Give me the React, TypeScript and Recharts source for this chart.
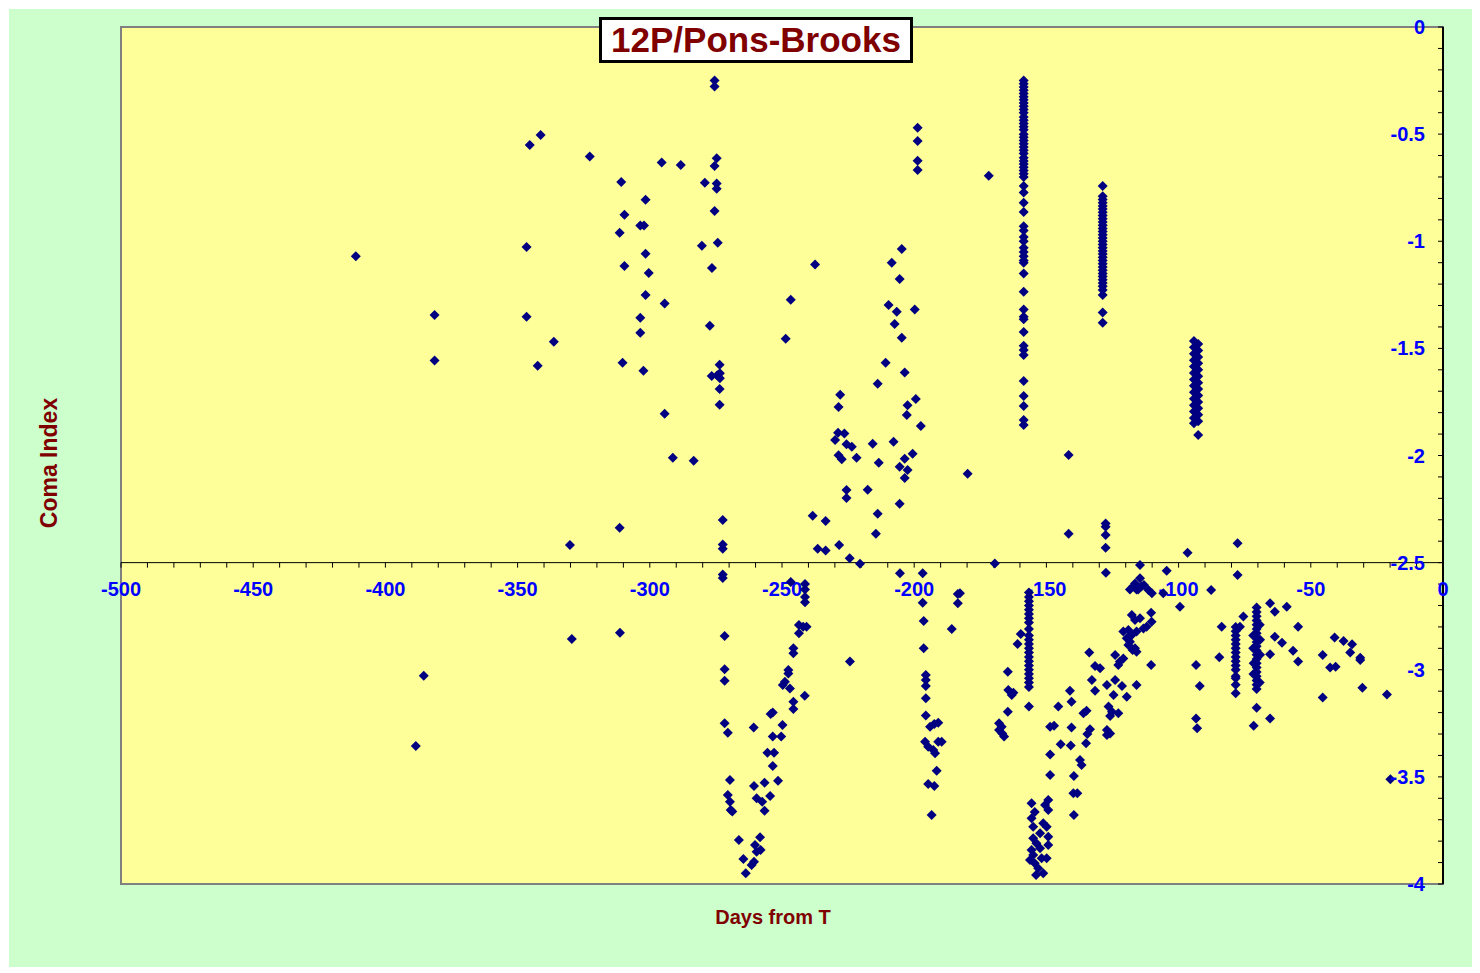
import React from "react";
import { ScatterChart, Scatter, XAxis, YAxis, CartesianGrid, ReferenceLine, ReferenceArea, ReferenceDot } from "recharts";

type Obs = [number, number]; // [days from T, coma index]

// observations before ~ -280 days
const earlyObs: Obs[] = [
  [-411.2, -1.07], [-381.4, -1.344], [-381.4, -1.557], [-385.5, -3.028], [-388.5, -3.356],
  [-346.6, -1.027], [-345.4, -0.551], [-346.6, -1.352], [-341.3, -0.504], [-342.4, -1.581], [-336.3, -1.469],
  [-330.2, -2.418], [-329.5, -2.857], [-322.7, -0.605],
  [-310.8, -0.723], [-309.6, -0.876], [-311.4, -0.96], [-309.6, -1.116], [-310.3, -1.567], [-311.4, -2.337], [-311.3, -2.827],
  [-303.6, -0.927], [-302.2, -0.927], [-301.6, -0.806], [-301.6, -1.058], [-300.4, -1.148], [-301.6, -1.251],
  [-303.6, -1.357], [-303.6, -1.427], [-302.4, -1.604],
  [-295.5, -0.633], [-294.4, -1.291], [-294.4, -1.805], [-291.3, -2.01], [-288.3, -0.644], [-283.4, -2.024],
  [-280.3, -1.021], [-279.2, -0.727], [-277.3, -1.394], [-276.5, -1.125], [-276.6, -1.629],
];

const obs274: Obs[] = [
  [-275.5, -0.25], [-275.5, -0.278], [-274.7, -0.613], [-275.5, -0.649], [-274.7, -0.73], [-274.7, -0.755],
  [-275.5, -0.859], [-274.3, -1.007], [-273.6, -1.576], [-273.5, -1.616], [-274.5, -1.625], [-273.5, -1.64],
  [-273.6, -1.69], [-273.6, -1.763], [-272.4, -2.301], [-272.4, -2.415], [-272.4, -2.435], [-272.4, -2.556],
  [-272.4, -2.572], [-271.7, -2.843], [-271.7, -2.998], [-271.7, -3.051], [-271.7, -3.25], [-270.5, -3.294],
  [-269.7, -3.515], [-270.5, -3.585], [-269.7, -3.616], [-269.4, -3.655], [-268.8, -3.662],
];

const dip260: Obs[] = [
  [-266.3, -3.795], [-264.6, -3.883], [-263.7, -3.95], [-261.5, -3.911], [-260.6, -3.896], [-260.2, -3.818],
  [-259.6, -3.849], [-258.3, -3.782], [-258.1, -3.841], [-260.7, -3.27], [-260.6, -3.543], [-259.6, -3.6],
  [-257.5, -3.616], [-256.6, -3.527], [-256.6, -3.658], [-254.5, -3.589], [-255.5, -3.387], [-253, -3.387],
  [-253.5, -3.449], [-251.5, -3.518], [-253.5, -3.312], [-250.3, -3.312], [-254.3, -3.207], [-253.5, -3.2],
  [-249.8, -3.258], [-249.7, -3.071], [-248.9, -3.056], [-247.6, -3.017], [-247.6, -3.001], [-247, -3.087],
  [-245.7, -3.149], [-245.7, -3.183], [-241.4, -3.121], [-245.7, -2.9], [-245.7, -2.923], [-243.6, -2.791],
  [-243.6, -2.83], [-242, -2.799], [-240.7, -2.799], [-246.7, -2.59], [-241.3, -2.6], [-241.3, -2.625],
  [-241.3, -2.66], [-241.3, -2.685], [-224.3, -2.962],
];

const mid220: Obs[] = [
  [-248.6, -1.455], [-246.7, -1.273], [-237.5, -1.109], [-238.4, -2.281], [-233.5, -2.306], [-236.5, -2.435],
  [-233.5, -2.443], [-228.4, -2.418], [-224.4, -2.48], [-220.5, -2.505], [-228, -1.716], [-228.6, -1.774],
  [-228.8, -1.894], [-226.4, -1.897], [-229.9, -1.928], [-225.6, -1.948], [-223.6, -1.959], [-228.6, -1.999],
  [-227.4, -2.018], [-221.8, -2.01], [-225.6, -2.161], [-225.6, -2.198], [-217.6, -2.16], [-215.7, -1.945],
  [-213.8, -1.665], [-210.8, -1.567], [-213.4, -2.034], [-213.8, -2.272], [-214.5, -2.365], [-209.7, -1.298],
  [-208.5, -1.1], [-207.8, -1.936], [-207.4, -1.386], [-206.6, -1.329], [-205.5, -1.176], [-205.5, -2.052],
  [-205.5, -2.225], [-204.7, -1.036], [-204.7, -1.45], [-203.6, -1.613], [-203.6, -2.015], [-203.6, -2.105],
  [-202.5, -1.766], [-202.8, -1.811], [-202.5, -2.068], [-200.6, -1.992], [-199.8, -1.319], [-199.4, -1.736],
  [-197.5, -1.862], [-198.7, -0.47], [-198.7, -0.532], [-198.7, -0.624], [-198.7, -0.667], [-205.4, -2.55],
  [-179.8, -2.085], [-171.8, -0.694], [-169.5, -2.504],
];

const obs196: Obs[] = [
  [-196.8, -2.55], [-196.8, -2.687], [-196.4, -2.772], [-196.4, -2.9], [-195.6, -3.025], [-195.6, -3.048],
  [-195.6, -3.076], [-195.6, -3.133], [-195.6, -3.214], [-194, -3.266], [-192.4, -3.253], [-190.9, -3.247],
  [-195.9, -3.336], [-194.7, -3.359], [-190.9, -3.336], [-189.6, -3.336], [-192.8, -3.375], [-192.1, -3.39],
  [-191.5, -3.471], [-194.7, -3.533], [-192.4, -3.543], [-193.4, -3.678], [-185.8, -2.81], [-183.5, -2.646],
  [-182.7, -2.643], [-183.5, -2.69],
];

// dense night at about -158 days
const day158Upper = -158.6;
const coma158Upper = [
  -0.25, -0.265, -0.28, -0.295, -0.31, -0.325, -0.34, -0.355, -0.37, -0.385, -0.4, -0.42, -0.435, -0.45,
  -0.465, -0.48, -0.5, -0.515, -0.53, -0.545, -0.56, -0.575, -0.59, -0.61, -0.625, -0.64, -0.655, -0.67,
  -0.685, -0.7, -0.742, -0.773, -0.82, -0.864, -0.93, -0.95, -0.98, -1.0, -1.03, -1.05, -1.07, -1.09,
  -1.1, -1.15, -1.236, -1.318, -1.352, -1.364, -1.424, -1.488, -1.508, -1.531, -1.652, -1.722, -1.769,
  -1.834, -1.858,
];
const day158Lower = -156.6;
const coma158Lower = [
  -2.64, -2.66, -2.68, -2.7, -2.72, -2.74, -2.76, -2.78, -2.81, -2.84, -2.86, -2.88, -2.9, -2.92, -2.94,
  -2.96, -2.98, -3.0, -3.02, -3.04, -3.06, -3.08, -3.172,
];

const near165: Obs[] = [
  [-159.7, -2.833], [-160.9, -2.88], [-164.6, -3.009], [-164.4, -3.095], [-162.5, -3.107], [-163.1, -3.118],
  [-164.6, -3.196], [-167.9, -3.25], [-166.9, -3.266], [-167.9, -3.281], [-166, -3.312], [-166.7, -3.297],
];

const dip152: Obs[] = [
  [-155.6, -3.623], [-149.3, -3.608], [-149.3, -3.655], [-155.6, -3.693], [-151.2, -3.717], [-155, -3.733],
  [-149.9, -3.733], [-152.4, -3.763], [-155, -3.787], [-149.3, -3.779], [-153.8, -3.81], [-149.3, -3.818],
  [-155.6, -3.841], [-152.4, -3.833], [-155, -3.865], [-151.8, -3.88], [-149.9, -3.88], [-154.4, -3.903],
  [-153.1, -3.927], [-151.2, -3.95], [-156.2, -3.888], [-153.9, -3.958], [-150.5, -3.631], [-154.4, -3.664],
];

const day129 = -128.7;
const coma129 = [
  -0.742, -0.79, -0.805, -0.82, -0.835, -0.85, -0.865, -0.88, -0.895, -0.91, -0.925, -0.94, -0.955, -0.97,
  -0.985, -1.0, -1.015, -1.03, -1.045, -1.06, -1.075, -1.09, -1.105, -1.12, -1.135, -1.15, -1.165, -1.18,
  -1.195, -1.21, -1.228, -1.251, -1.333, -1.38,
];

const rise120: Obs[] = [
  [-141.6, -1.998], [-141.6, -2.365], [-127.6, -2.317], [-127.6, -2.332], [-127.6, -2.371], [-127.6, -2.43],
  [-127.5, -2.547], [-114.6, -2.511], [-104.5, -2.538], [-96.6, -2.454], [-77.7, -2.41], [-77.7, -2.558],
  [-118.4, -2.625], [-116.5, -2.597], [-114.6, -2.573], [-113.1, -2.604], [-111.4, -2.628], [-110.1, -2.643],
  [-115.9, -2.625], [-117.2, -2.612], [-114.1, -2.612], [-115.3, -2.625], [-105.8, -2.643], [-99.5, -2.706],
  [-87.7, -2.628], [-110.4, -2.734], [-117.7, -2.744], [-114.6, -2.76], [-116.5, -2.768], [-110.2, -2.776],
  [-112.1, -2.799], [-113.3, -2.807], [-120.9, -2.822], [-119, -2.815], [-115.9, -2.822], [-117.7, -2.838],
  [-119.6, -2.853], [-118.4, -2.869], [-119, -2.884], [-116.5, -2.9], [-115.9, -2.916], [-117.4, -2.908],
  [-133.8, -2.92], [-124, -2.931], [-120.9, -2.947], [-122.2, -2.962], [-122.8, -2.978], [-110.4, -2.978],
  [-131.6, -2.982], [-129.7, -2.993], [-132.8, -3.048], [-131.6, -3.098], [-127.1, -3.071], [-124, -3.048],
  [-121.4, -3.076], [-124.6, -3.118], [-119.6, -3.126], [-115.9, -3.071], [-126.5, -3.172], [-125.2, -3.196],
  [-125.9, -3.216], [-122.8, -3.203], [-127.1, -3.281], [-125.9, -3.297], [-127.1, -3.305], [-141.1, -3.098],
  [-140.5, -3.149], [-145.5, -3.172], [-148.6, -3.266], [-147.1, -3.261], [-140.5, -3.27], [-134.8, -3.191],
  [-136, -3.203], [-133.5, -3.278], [-134.5, -3.3], [-135, -3.343], [-144.6, -3.348], [-140.8, -3.354],
  [-148.6, -3.395], [-137.3, -3.421], [-136.7, -3.445], [-148.6, -3.491], [-139.6, -3.496], [-139.8, -3.577],
  [-138.3, -3.577], [-139.6, -3.678],
];

const day93 = -93.4;
const coma93 = [
  -1.465, -1.48, -1.495, -1.51, -1.525, -1.54, -1.555, -1.57, -1.585, -1.6, -1.615, -1.63, -1.645, -1.66,
  -1.675, -1.69, -1.705, -1.72, -1.735, -1.75, -1.765, -1.78, -1.795, -1.81, -1.825, -1.84, -1.85, -1.904,
];

const day78 = -78.4;
const coma78 = [-2.8, -2.82, -2.84, -2.86, -2.88, -2.9, -2.92, -2.94, -2.96, -2.98, -3.0, -3.03, -3.04, -3.07, -3.11];

const day70 = -70.5;
const coma70 = [
  -2.71, -2.73, -2.75, -2.77, -2.79, -2.81, -2.83, -2.85, -2.87, -2.89, -2.91, -2.93, -2.95, -2.97, -2.99,
  -3.01, -3.03, -3.05, -3.07, -3.09, -3.177,
];

const lateObs: Obs[] = [
  [-93.4, -2.978], [-92, -3.076], [-93.4, -3.227], [-93, -3.273], [-84.6, -2.942], [-83.7, -2.799],
  [-75.5, -2.752], [-76.8, -2.799], [-71.6, -3.261], [-65.4, -3.227], [-71.8, -2.84], [-69.2, -2.86],
  [-71.8, -2.9], [-69.2, -2.93], [-71.6, -2.97], [-69.3, -2.79], [-71.7, -3.02], [-69.3, -3.06],
  [-65.4, -2.69], [-63.6, -2.729], [-59.1, -2.706], [-65.4, -2.928], [-63.6, -2.846], [-60.9, -2.874],
  [-56.7, -2.911], [-54.8, -2.962], [-54.8, -2.799], [-45.5, -2.931], [-45.5, -3.13], [-42.7, -2.99],
  [-40.6, -2.986], [-41, -2.849], [-37.6, -2.866], [-34.4, -2.881], [-35.1, -2.92], [-31.3, -2.944],
  [-31.3, -2.954], [-30.5, -3.084], [-21.2, -3.115], [-19.9, -3.511],
];

const dayTicks: number[] = [];
for (let d = -500; d <= 0; d += 10) dayTicks.push(d);
const comaTicks: number[] = [];
for (let i = -40; i <= 0; i++) comaTicks.push(i / 10);

const column = (day: number, values: number[]): Obs[] => values.map((v) => [day, v]);

const allObs: Obs[] = [
  ...earlyObs, ...obs274, ...dip260, ...mid220, ...obs196,
  ...column(day158Upper, coma158Upper), ...column(day158Lower, coma158Lower),
  ...near165, ...dip152, ...column(day129, coma129), ...rise120,
  ...column(day93, coma93).map(([d, v], i): Obs => [d + (i % 2 ? 0.8 : -0.8), v]),
  ...column(day78, coma78), ...column(day70, coma70), ...lateObs,
];
const points = allObs.map(([day, ci]) => ({ day, ci }));

const FONT = "Arial, 'Liberation Sans', sans-serif";

const Diamond = (p: any) => {
  const h = 5;
  return <path d={`M${p.cx},${p.cy - h}L${p.cx + h},${p.cy}L${p.cx},${p.cy + h}L${p.cx - h},${p.cy}Z`} fill="#000080" />;
};

const dayTick = (label: string) => (p: any) => (
  <g>
    <line x1={p.cx} y1={p.cy} x2={p.cx} y2={p.cy + 5} stroke="#000" strokeWidth={1} />
    {label ? (
      <text x={p.cx} y={p.cy + 33} textAnchor="middle" fill="#0000FF" fontFamily={FONT} fontWeight="bold" fontSize={20}>
        {label}
      </text>
    ) : null}
  </g>
);

export default function App() {
  return (
    <div style={{ padding: "1px 0 0 1px" }}>
      <div style={{ position: "relative", width: 1465, height: 958, background: "#CCFFCC" }}>
        <ScatterChart width={1465} height={958} margin={{ top: 18, right: 31, bottom: 83, left: 112 }}>
          <CartesianGrid fill="#FFFF99" fillOpacity={1} horizontal={false} vertical={false} />
          <ReferenceArea x1={-500} x2={0} y1={-4} y2={0} fill="none" stroke="#808080" strokeWidth={2} />
          <XAxis type="number" dataKey="day" domain={[-500, 0]} hide />
          <YAxis
            type="number"
            dataKey="ci"
            domain={[-4, 0]}
            orientation="right"
            mirror
            ticks={comaTicks}
            interval={0}
            tickFormatter={(v: number) => (Math.abs(v * 2 - Math.round(v * 2)) < 1e-6 ? String(v) : "")}
            tickSize={5}
            tickMargin={13}
            axisLine={{ stroke: "#000", strokeWidth: 2 }}
            tickLine={{ stroke: "#000" }}
            tick={{ fill: "#0000FF", fontFamily: FONT, fontWeight: "bold", fontSize: 20 }}
          />
          <ReferenceLine y={-2.5} stroke="#000" strokeWidth={1} />
          {dayTicks.map((d) => (
            <ReferenceDot key={d} x={d} y={-2.5} shape={dayTick(d % 50 === 0 ? String(d) : "")} />
          ))}
          <Scatter data={points} shape={Diamond} isAnimationActive={false} />
        </ScatterChart>
        <div
          style={{
            position: "absolute", left: 590, top: 8, width: 314, height: 46, boxSizing: "border-box",
            border: "3px solid #000", background: "#fff", color: "#800000", fontFamily: FONT,
            fontWeight: "bold", fontSize: 35, lineHeight: "40px", textAlign: "center",
          }}
        >
          12P/Pons-Brooks
        </div>
        <div
          style={{
            position: "absolute", left: 40, top: 454, transform: "translate(-50%, -50%) rotate(-90deg)",
            whiteSpace: "nowrap", color: "#800000", fontFamily: FONT, fontWeight: "bold", fontSize: 23,
          }}
        >
          Coma Index
        </div>
        <div
          style={{
            position: "absolute", left: 764, top: 908, transform: "translate(-50%, -50%)",
            whiteSpace: "nowrap", color: "#800000", fontFamily: FONT, fontWeight: "bold", fontSize: 20,
          }}
        >
          Days from T
        </div>
      </div>
    </div>
  );
}
